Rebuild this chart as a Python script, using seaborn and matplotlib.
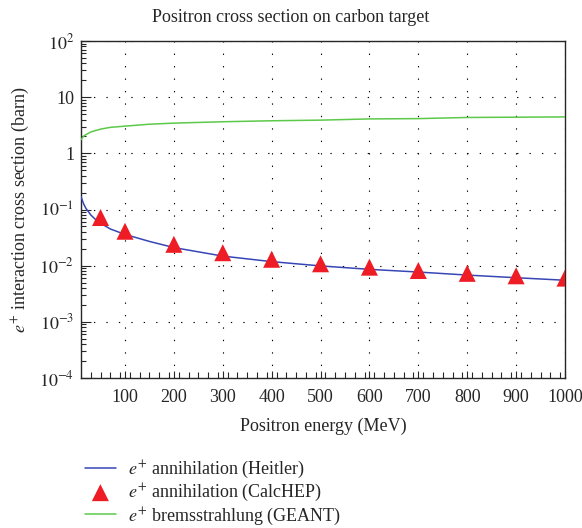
import numpy as np
import pandas as pd
import seaborn as sns
import matplotlib.pyplot as plt
from matplotlib.ticker import FixedLocator, FuncFormatter, LogLocator, NullFormatter

# data
heitler_energy = [10, 15, 20, 30, 40, 50, 70, 100, 150, 200, 300, 400, 500, 600, 700, 800, 900, 1000]
heitler_xs = [0.17, 0.128, 0.105, 0.08, 0.066, 0.057, 0.045, 0.036, 0.027, 0.021, 0.0148,
              0.0118, 0.0099, 0.0086, 0.0077, 0.0068, 0.0061, 0.0055]

calchep_energy = [50, 100, 200, 300, 400, 500, 600, 700, 800, 900, 1000]
calchep_xs = [0.072, 0.041, 0.024, 0.017, 0.013, 0.0108, 0.0094, 0.0082, 0.0073, 0.0066, 0.006]

geant_energy = [10, 15, 20, 30, 50, 70, 100, 150, 200, 300, 400, 500, 600, 700, 800, 900, 1000]
geant_xs = [1.75, 2.0, 2.15, 2.4, 2.7, 2.9, 3.05, 3.3, 3.45, 3.65, 3.8, 3.9, 4.1, 4.15, 4.35, 4.4, 4.45]

x_ticks = [100, 200, 300, 400, 500, 600, 700, 800, 900, 1000]

sns.set_style("ticks")
plt.rcParams['font.family'] = ['Liberation Serif', 'DejaVu Serif']
plt.rcParams['mathtext.fontset'] = 'stix'
plt.rcParams['font.size'] = 13

fig = plt.figure(figsize=(5.82, 5.28), dpi=100)
ax = fig.add_axes([81 / 582, 1 - 378 / 528, (565 - 81) / 582, (378 - 41) / 528])

df_h = pd.DataFrame({"energy": heitler_energy, "xs": heitler_xs})
df_c = pd.DataFrame({"energy": calchep_energy, "xs": calchep_xs})
df_g = pd.DataFrame({"energy": geant_energy, "xs": geant_xs})

sns.lineplot(data=df_h, x="energy", y="xs", ax=ax, color="#3647b5", lw=1.1,
             label=r"$e^{+}$ annihilation (Heitler)", zorder=3)
sns.scatterplot(data=df_c, x="energy", y="xs", ax=ax, marker="^", s=150, color="#ee1c25",
                edgecolor="none", label=r"$e^{+}$ annihilation (CalcHEP)", zorder=4)
sns.lineplot(data=df_g, x="energy", y="xs", ax=ax, color="#5cc94a", lw=1.1,
             label=r"$e^{+}$ bremsstrahlung (GEANT)", zorder=3)

ax.set_yscale("log")
ax.set_xlim(10, 1000)
ax.set_ylim(1e-4, 1e2)

ax.xaxis.set_major_locator(FixedLocator(x_ticks))
ax.xaxis.set_minor_locator(FixedLocator([v for v in range(30, 1000, 20) if v % 100 != 0]))
ax.yaxis.set_major_locator(LogLocator(base=10, numticks=10))
ax.yaxis.set_minor_locator(LogLocator(base=10, subs=np.arange(2, 10), numticks=20))
ax.yaxis.set_minor_formatter(NullFormatter())


def ylab(v, pos):
    e = int(round(np.log10(v)))
    if e == 0:
        return "1"
    if e == 1:
        return "10"
    return r"$10^{%d}$" % e


ax.yaxis.set_major_formatter(FuncFormatter(ylab))

ax.tick_params(which="both", direction="in", top=False, right=False, width=0.8, labelsize=13)
ax.tick_params(axis="y", which="major", length=7, pad=5)
ax.tick_params(axis="y", which="minor", length=3.5)
ax.tick_params(axis="x", which="major", length=5, pad=8)
ax.tick_params(axis="x", which="minor", length=4)
for s in ax.spines.values():
    s.set_linewidth(1.0)

ax.grid(True, which="major", color="black", linestyle=(0, (1.2, 10)), lw=0.8)

fig.text(0.5, 1 - 17 / 528, "Positron cross section on carbon target", fontsize=13,
         ha="center", va="center")
ax.set_xlabel("Positron energy (MeV)", fontsize=13, labelpad=8)
ax.set_ylabel(r"$e^{+}$ interaction cross section (barn)", fontsize=13, labelpad=6)

h, l = ax.get_legend_handles_labels()
ax.get_legend().remove()
fig.legend(h, l, loc="upper left", bbox_to_anchor=(76 / 582, 1 - 450 / 528), frameon=False,
           fontsize=13, borderpad=0, handlelength=1.7, handletextpad=0.7, labelspacing=0.12)

fig.savefig("out.png", dpi=100)
